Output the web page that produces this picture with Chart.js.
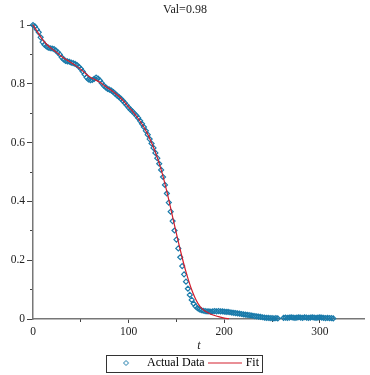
<!DOCTYPE html>
<html>
<head>
<meta charset="utf-8">
<script src="https://cdn.jsdelivr.net/npm/chart.js@4.4.1/dist/chart.umd.min.js"></script>
<style>
html,body{margin:0;padding:0;background:#fff;}
#wrap{position:relative;width:370px;height:375px;}
</style>
</head>
<body>
<div id="wrap"><canvas id="c" width="370" height="375"></canvas></div>
<script>
const titleText = 'Val=0.98';
const xAxisTitle = 't';
const seriesNames = ['Actual Data', 'Fit'];
const xTickLabels = ['0', '100', '200', '300'];
const yTickLabels = ['0', '0.2', '0.4', '0.6', '0.8', '1'];

const actualT = [0,2,4,6,8,10,12,14,16,18,20,22,24,26,28,30,32,34,36,38,40,42,44,46,48,50,52,54,56,58,60,62,64,66,68,70,72,74,76,78,80,82,84,86,88,90,92,94,96,98,100,102,104,106,108,110,112,114,116,118,120,122,124,126,128,130,132,134,136,138,140,142,144,146,148,150,152,154,156,158,160,162,164,166,168,170,172,174,176,178,180,182,184,186,188,190,192,194,196,198,200,202,204,206,208,210,212,214,216,218,220,222,224,226,228,230,232,234,236,238,240,242,244,246,248,250,252,254,256,262,264,266,268,270,272,274,276,278,280,282,284,286,288,290,292,294,296,298,300,302,304,306,308,310,312,314];
const actualV = [1.000,0.995,0.985,0.975,0.958,0.942,0.933,0.927,0.923,0.921,0.920,0.918,0.913,0.907,0.900,0.890,0.883,0.878,0.876,0.875,0.872,0.870,0.868,0.864,0.858,0.851,0.842,0.832,0.822,0.815,0.812,0.813,0.817,0.821,0.818,0.811,0.802,0.794,0.788,0.783,0.780,0.777,0.772,0.766,0.760,0.755,0.749,0.742,0.735,0.727,0.719,0.712,0.706,0.699,0.692,0.684,0.674,0.664,0.653,0.640,0.627,0.612,0.597,0.582,0.565,0.547,0.528,0.507,0.483,0.456,0.427,0.396,0.365,0.333,0.301,0.270,0.240,0.210,0.180,0.152,0.127,0.103,0.082,0.065,0.052,0.043,0.037,0.033,0.030,0.028,0.027,0.026,0.026,0.025,0.026,0.027,0.026,0.027,0.026,0.026,0.025,0.024,0.024,0.023,0.022,0.021,0.020,0.019,0.018,0.017,0.016,0.015,0.014,0.013,0.012,0.011,0.010,0.009,0.008,0.007,0.006,0.005,0.004,0.004,0.003,0.003,0.002,0.003,0.002,0.004,0.005,0.004,0.005,0.006,0.005,0.004,0.005,0.006,0.005,0.004,0.006,0.005,0.004,0.005,0.006,0.005,0.004,0.005,0.006,0.005,0.004,0.003,0.004,0.003,0.003,0.002];

const fitT = [0,5,10,15,20,25,30,35,40,45,50,55,60,65,70,75,80,85,90,95,100,105,110,115,120,125,130,135,140,145,150,155,160,165,170,175,180,185,190,195,200,205];
const fitV = [1.000,0.975,0.950,0.932,0.918,0.906,0.893,0.882,0.872,0.861,0.849,0.835,0.822,0.814,0.805,0.793,0.782,0.770,0.757,0.740,0.721,0.703,0.682,0.658,0.628,0.592,0.549,0.497,0.433,0.362,0.290,0.222,0.160,0.108,0.068,0.041,0.027,0.018,0.012,0.007,0.003,0.001];

const dataColor = 'rgb(25,122,170)';
const fitColor = 'rgb(210,30,45)';
const serif = "'Liberation Serif', 'DejaVu Serif', serif";

function labelFor(list, v) {
  const hit = list.find(l => Math.abs(parseFloat(l) - v) < 1e-6);
  return hit === undefined ? '' : hit;
}

function makeDiamondIcon(color) {
  const c = document.createElement('canvas');
  c.width = 34; c.height = 8;
  const g = c.getContext('2d');
  g.strokeStyle = color; g.lineWidth = 1;
  g.beginPath();
  g.moveTo(17, 1.5); g.lineTo(19.5, 4); g.lineTo(17, 6.5); g.lineTo(14.5, 4);
  g.closePath(); g.stroke();
  return c;
}
function makeLineIcon(color) {
  const c = document.createElement('canvas');
  c.width = 34; c.height = 3;
  const g = c.getContext('2d');
  g.strokeStyle = color; g.lineWidth = 1.2;
  g.beginPath(); g.moveTo(0, 1.5); g.lineTo(34, 1.5); g.stroke();
  return c;
}
const legendIcons = [makeDiamondIcon(dataColor), makeLineIcon(fitColor)];

const legendBorder = {
  id: 'legendBorder',
  afterDraw(chart) {
    const lg = chart.legend;
    if (!lg || !lg.legendHitBoxes || !lg.legendHitBoxes.length) return;
    const hb = lg.legendHitBoxes;
    const first = hb[0], last = hb[hb.length - 1];
    const ctx = chart.ctx;
    const l = Math.round(first.left - 5) + 0.5;
    const r = Math.round(last.left + last.width + 3) + 0.5;
    const t = Math.round(first.top - 2) + 0.5;
    const b = Math.round(first.top + first.height + 3) + 0.5;
    ctx.save();
    ctx.strokeStyle = '#333';
    ctx.lineWidth = 1;
    ctx.strokeRect(l, t, r - l, b - t);
    ctx.restore();
  }
};

Chart.defaults.font.family = serif;

new Chart(document.getElementById('c'), {
  type: 'scatter',
  data: {
    datasets: [
      {
        label: seriesNames[0],
        data: actualT.map((t, i) => ({ x: t, y: actualV[i] })),
        pointStyle: 'rectRot',
        pointRadius: 2.5,
        pointBorderWidth: 1.2,
        pointBorderColor: dataColor,
        pointBackgroundColor: 'rgba(0,0,0,0)',
        showLine: false,
        clip: false,
        order: 1
      },
      {
        label: seriesNames[1],
        data: fitT.map((t, i) => ({ x: t, y: fitV[i] })),
        showLine: true,
        borderColor: fitColor,
        borderWidth: 1.2,
        pointRadius: 0,
        cubicInterpolationMode: 'monotone',
        clip: false,
        order: 0
      }
    ]
  },
  options: {
    responsive: false,
    animation: false,
    devicePixelRatio: 1,
    layout: { padding: { top: 0, left: 0, right: 0, bottom: -4 } },
    plugins: {
      tooltip: { enabled: false },
      title: {
        display: true,
        text: titleText,
        color: '#222',
        font: { family: serif, size: 12, weight: 'normal' },
        padding: { top: 3, bottom: 7.6 }
      },
      legend: {
        display: true,
        position: 'bottom',
        labels: {
          usePointStyle: true,
          pointStyleWidth: 30,
          padding: 5,
          color: '#111',
          font: { family: serif, size: 12 },
          generateLabels: (chart) => chart.data.datasets.map((ds, i) => ({
            text: ds.label,
            pointStyle: legendIcons[i],
            fillStyle: 'rgba(0,0,0,0)',
            strokeStyle: 'rgba(0,0,0,0)',
            lineWidth: 0,
            hidden: false,
            datasetIndex: i
          }))
        }
      }
    },
    scales: {
      x: {
        type: 'linear', position: 'bottom', min: 0, max: 347, weight: 1,
        afterBuildTicks: s => { s.ticks = s.ticks.filter(t => Math.abs(t.value % 100) < 1e-6); },
        afterFit: s => { s.height = 33; },
        ticks: {
          stepSize: 100, autoSkip: false, maxRotation: 0, padding: 2, color: '#222',
          font: { family: serif, size: 11.5 },
          callback: v => labelFor(xTickLabels, v)
        },
        grid: {
          drawOnChartArea: false, drawTicks: true, tickLength: 4, tickWidth: 1,
          tickColor: ctx => (ctx.tick && ctx.tick.value === 0) ? 'rgba(0,0,0,0)' : '#444'
        },
        border: { display: true, color: '#777', width: 1.5 },
        title: {
          display: true, text: xAxisTitle, color: '#222',
          font: { family: serif, size: 12, style: 'italic', lineHeight: 1 },
          padding: { top: 0, bottom: 0 }
        }
      },
      xMinor: {
        type: 'linear', position: 'bottom', min: 0, max: 347, weight: 0,
        afterBuildTicks: s => { s.ticks = s.ticks.filter(t => Math.abs(t.value % 100 - 50) < 1e-6); },
        afterFit: s => { s.height = 0; },
        ticks: { stepSize: 50, autoSkip: false, maxRotation: 0, padding: 0, callback: () => '' },
        grid: { drawOnChartArea: false, drawTicks: true, tickLength: 3, tickWidth: 1, tickColor: '#444' },
        border: { display: false }
      },
      y: {
        type: 'linear', position: 'left', min: 0, max: 1, weight: 1,
        afterFit: s => { s.width = 33; },
        ticks: {
          stepSize: 0.2, autoSkip: false, padding: 2, color: '#222',
          font: { family: serif, size: 11.5 },
          callback: v => labelFor(yTickLabels, v)
        },
        grid: { drawOnChartArea: false, drawTicks: true, tickLength: 6, tickWidth: 1, tickColor: '#444' },
        border: { display: true, color: '#777', width: 1.5 }
      },
      yMinor: {
        type: 'linear', position: 'left', min: 0, max: 1, weight: 0,
        afterFit: s => { s.width = 0; },
        ticks: { stepSize: 0.1, autoSkip: false, padding: 0, callback: () => '' },
        grid: { drawOnChartArea: false, drawTicks: true, tickLength: 3, tickWidth: 1, tickColor: '#444' },
        border: { display: false }
      }
    }
  },
  plugins: [legendBorder]
});
</script>
</body>
</html>
